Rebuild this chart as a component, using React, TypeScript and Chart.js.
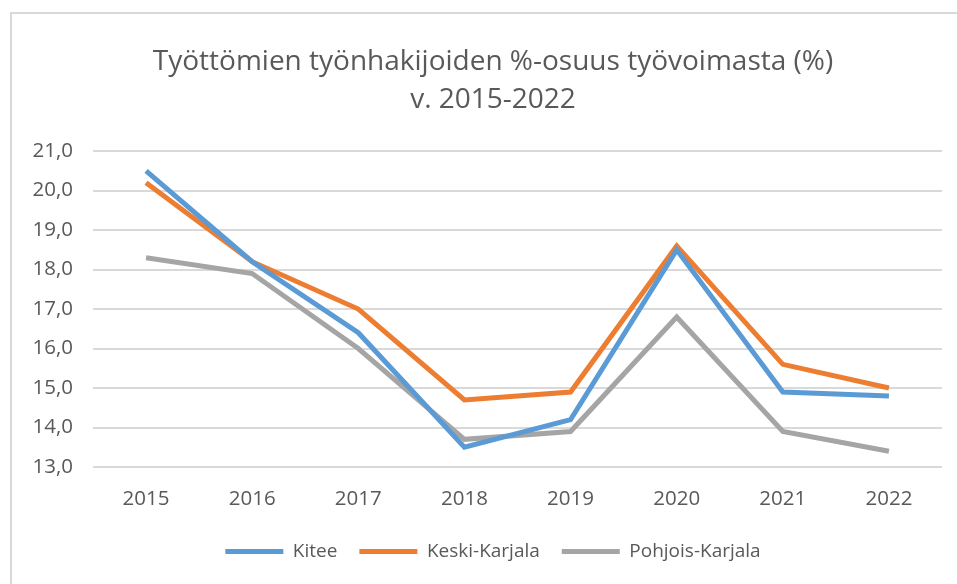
import React, { useEffect, useRef } from "react";
import { Chart, registerables } from "chart.js";

Chart.register(...registerables);

const years = ["2015", "2016", "2017", "2018", "2019", "2020", "2021", "2022"];
const kitee = [20.5, 18.2, 16.4, 13.5, 14.2, 18.5, 14.9, 14.8];
const keskiKarjala = [20.2, 18.2, 17.0, 14.7, 14.9, 18.6, 15.6, 15.0];
const pohjoisKarjala = [18.3, 17.9, 16.0, 13.7, 13.9, 16.8, 13.9, 13.4];
const titleLines = ["Työttömien työnhakijoiden %-osuus työvoimasta (%)", "v. 2015-2022"];

const FONT = "'Open Sans', sans-serif";
const TEXT = "#595959";

const centerShift = {
  id: "centerShift",
  afterLayout(chart: any) {
    const boxes = [chart.legend, chart.titleBlock];
    boxes.forEach((b: any) => {
      if (b) {
        b.left += 17;
        b.right += 17;
      }
    });
  },
};

export default function App() {
  const ref = useRef<HTMLCanvasElement>(null);
  useEffect(() => {
    document.body.style.margin = "0";
    const ctx = ref.current!;
    const mk = (label: string, data: number[], color: string) => ({
      label,
      data,
      borderColor: color,
      backgroundColor: color,
      borderWidth: 5,
      pointRadius: 0,
      tension: 0,
    });
    const chart = new Chart(ctx, {
      type: "line",
      data: {
        labels: years,
        datasets: [
          mk("Kitee", kitee, "#5B9BD5"),
          mk("Keski-Karjala", keskiKarjala, "#ED7D31"),
          mk("Pohjois-Karjala", pohjoisKarjala, "#A5A5A5"),
        ],
      },
      plugins: [centerShift],
      options: {
        animation: false,
        responsive: false,
        maintainAspectRatio: false,
        layout: { padding: { left: 10, right: 15, top: 43, bottom: 13 } },
        plugins: {
          tooltip: { enabled: false },
          title: {
            display: true,
            text: titleLines,
            color: TEXT,
            font: { family: FONT, size: 28, weight: "normal", lineHeight: 1.36 },
            padding: { top: 0, bottom: 32 },
          },
          legend: {
            position: "bottom",
            labels: {
              color: TEXT,
              font: { family: FONT, size: 19 },
              boxWidth: 58,
              boxHeight: 5,
              padding: 22,
              generateLabels: (c: any) => {
                const items = Chart.defaults.plugins.legend.labels.generateLabels(c);
                items.forEach((it: any) => {
                  it.lineWidth = 0;
                });
                return items;
              },
            },
          },
        },
        scales: {
          x: {
            offset: true,
            grid: { display: false },
            border: { display: false },
            ticks: { color: TEXT, font: { family: FONT, size: 20.5 }, padding: 12 },
            afterFit: (s: any) => {
              s.height = 53;
            },
          },
          y: {
            min: 13,
            max: 21,
            ticks: {
              stepSize: 1,
              color: TEXT,
              padding: 20,
              font: { family: FONT, size: 20.5 },
              callback: (v: any) => Number(v).toFixed(1).replace(".", ","),
            },
            grid: { color: "#D9D9D9", lineWidth: 2, drawTicks: false },
            border: { display: false },
            afterFit: (s: any) => {
              s.width = 83;
            },
          },
        },
      },
    });
    return () => chart.destroy();
  }, []);
  return (
    <div style={{ position: "relative", width: 957, height: 584, overflow: "hidden", background: "#fff" }}>
      <div
        style={{
          position: "absolute",
          left: 10,
          top: 12,
          width: 960,
          height: 600,
          border: "2px solid #D9D9D9",
          boxSizing: "border-box",
        }}
      />
      <canvas ref={ref} width={957} height={584} style={{ position: "absolute", left: 0, top: 0 }} />
    </div>
  );
}
